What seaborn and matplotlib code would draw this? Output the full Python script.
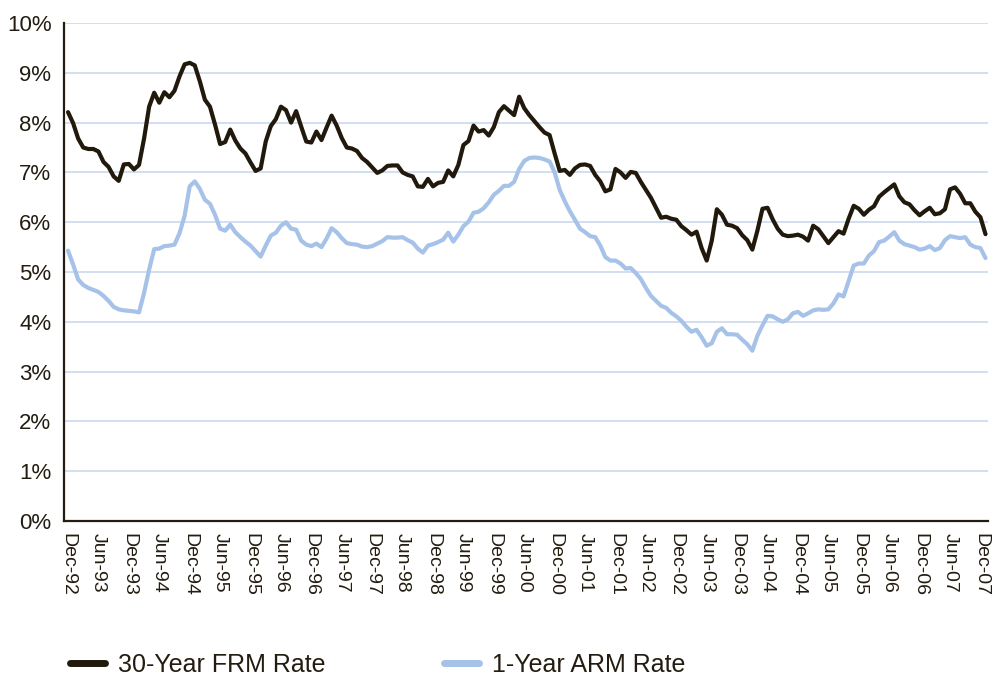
"""
plot.py
Monthly 30-year fixed vs 1-year adjustable mortgage rates, Dec-92 to Jan-08
"""
import numpy as np
import pandas as pd
import matplotlib
matplotlib.use('Agg')
import matplotlib.pyplot as plt
import seaborn as sns


# DATA =================================

frm_rate = [
    8.21,
    7.99, 7.68, 7.50, 7.47, 7.47, 7.42, 7.21, 7.11, 6.92, 6.83, 7.16, 7.17,
    7.06, 7.15, 7.68, 8.32, 8.60, 8.40, 8.61, 8.51, 8.64, 8.93, 9.17, 9.20,
    9.15, 8.83, 8.46, 8.32, 7.96, 7.57, 7.61, 7.86, 7.64, 7.48, 7.38, 7.20,
    7.03, 7.08, 7.62, 7.93, 8.07, 8.32, 8.25, 8.00, 8.23, 7.92, 7.62, 7.60,
    7.82, 7.65, 7.90, 8.14, 7.94, 7.69, 7.50, 7.48, 7.43, 7.29, 7.21, 7.10,
    6.99, 7.04, 7.13, 7.14, 7.14, 7.00, 6.95, 6.92, 6.72, 6.71, 6.87, 6.72,
    6.79, 6.81, 7.04, 6.92, 7.15, 7.55, 7.63, 7.94, 7.82, 7.85, 7.74, 7.91,
    8.21, 8.33, 8.24, 8.15, 8.52, 8.29, 8.15, 8.03, 7.91, 7.80, 7.75, 7.38,
    7.03, 7.05, 6.95, 7.08, 7.15, 7.16, 7.13, 6.95, 6.82, 6.62, 6.66, 7.07,
    7.00, 6.89, 7.01, 6.99, 6.81, 6.65, 6.49, 6.29, 6.09, 6.11, 6.07, 6.05,
    5.92, 5.84, 5.75, 5.81, 5.48, 5.23, 5.63, 6.26, 6.15, 5.95, 5.93, 5.88,
    5.74, 5.64, 5.45, 5.83, 6.27, 6.29, 6.06, 5.87, 5.75, 5.72, 5.73, 5.75,
    5.71, 5.63, 5.93, 5.86, 5.72, 5.58, 5.70, 5.82, 5.77, 6.07, 6.33, 6.27,
    6.15, 6.25, 6.32, 6.51, 6.60, 6.68, 6.76, 6.52, 6.40, 6.36, 6.24, 6.14,
    6.22, 6.29, 6.16, 6.18, 6.26, 6.66, 6.70, 6.57, 6.38, 6.38, 6.21, 6.10,
    5.76,
]

arm_rate = [
    5.43,
    5.15, 4.85, 4.74, 4.68, 4.64, 4.60, 4.52, 4.42, 4.30, 4.25, 4.23, 4.22,
    4.21, 4.19, 4.58, 5.05, 5.46, 5.47, 5.52, 5.53, 5.55, 5.78, 6.13, 6.72,
    6.82, 6.67, 6.45, 6.37, 6.15, 5.87, 5.83, 5.95, 5.80, 5.70, 5.61, 5.53,
    5.42, 5.31, 5.53, 5.73, 5.79, 5.93, 6.00, 5.87, 5.85, 5.63, 5.55, 5.52,
    5.57, 5.50, 5.67, 5.88, 5.80, 5.68, 5.58, 5.56, 5.55, 5.51, 5.50, 5.52,
    5.57, 5.62, 5.70, 5.69, 5.69, 5.70, 5.64, 5.59, 5.47, 5.39, 5.53, 5.56,
    5.60, 5.65, 5.79, 5.61, 5.75, 5.92, 6.01, 6.19, 6.21, 6.28, 6.40, 6.55,
    6.63, 6.73, 6.73, 6.81, 7.07, 7.23, 7.29, 7.30, 7.29, 7.26, 7.22, 7.00,
    6.65, 6.42, 6.22, 6.05, 5.87, 5.80, 5.72, 5.70, 5.53, 5.30, 5.23, 5.23,
    5.17, 5.07, 5.08, 4.98, 4.86, 4.68, 4.52, 4.42, 4.32, 4.28, 4.18, 4.11,
    4.02, 3.90, 3.80, 3.84, 3.69, 3.52, 3.57, 3.80, 3.87, 3.75, 3.75, 3.74,
    3.64, 3.55, 3.42, 3.72, 3.93, 4.12, 4.11, 4.05, 4.00, 4.05, 4.17, 4.20,
    4.12, 4.17, 4.23, 4.25, 4.24, 4.25, 4.37, 4.55, 4.51, 4.82, 5.13, 5.17,
    5.17, 5.33, 5.42, 5.60, 5.63, 5.71, 5.80, 5.63, 5.56, 5.53, 5.50, 5.45,
    5.47, 5.52, 5.44, 5.48, 5.64, 5.72, 5.70, 5.68, 5.70, 5.55, 5.50, 5.48,
    5.28,
]

tick_labels = [
    'Dec-92', 'Jun-93', 'Dec-93', 'Jun-94', 'Dec-94', 'Jun-95', 'Dec-95',
    'Jun-96', 'Dec-96', 'Jun-97', 'Dec-97', 'Jun-98', 'Dec-98', 'Jun-99',
    'Dec-99', 'Jun-00', 'Dec-00', 'Jun-01', 'Dec-01', 'Jun-02', 'Dec-02',
    'Jun-03', 'Dec-03', 'Jun-04', 'Dec-04', 'Jun-05', 'Dec-05', 'Jun-06',
    'Dec-06', 'Jun-07', 'Dec-07',
]

series_names = ['30-Year FRM Rate', '1-Year ARM Rate']
y_ticks = list(range(0, 11))


# PLOT =================================

INK = '#231c10'
GRID = '#cfdcf0'
colors = {'30-Year FRM Rate': '#21190c', '1-Year ARM Rate': '#a6c2e8'}

n = len(frm_rate)
months = np.arange(n)
df = pd.DataFrame({
    'Month': np.concatenate([months, months]),
    'Rate': frm_rate + arm_rate,
    'Series': [series_names[0]] * n + [series_names[1]] * n,
})

sns.set_style('white')
plt.rcParams['font.family'] = ['Liberation Sans', 'DejaVu Sans']

fig = plt.figure(figsize=(9.95, 6.79), dpi=100)
ax = fig.add_axes([0.0643, 0.2327, 0.9287, 0.7334])

# light blue horizontal grid, the 0% line is the axis itself
for yv in y_ticks[1:]:
    ax.axhline(yv, color=GRID, linewidth=1.3, zorder=0)

sns.lineplot(data=df, x='Month', y='Rate', hue='Series', hue_order=series_names,
             palette=colors, linewidth=3, ax=ax, legend=True, zorder=3)

ax.set_xlim(-0.8, 181.5)
ax.set_ylim(0, 10)
ax.set_xticks(months[::6][:len(tick_labels)])
ax.set_xticklabels(tick_labels, rotation=-90, fontsize=14, color=INK)
ax.set_yticks(y_ticks)
ax.set_yticklabels([f'{v}%' for v in y_ticks], fontsize=16, color=INK)
ax.set_xlabel('')
ax.set_ylabel('')

for side in ['top', 'right']:
    ax.spines[side].set_visible(False)
for side in ['left', 'bottom']:
    ax.spines[side].set_color(INK)
    ax.spines[side].set_linewidth(1.6)
ax.tick_params(axis='both', direction='out', length=5, width=1.4, color=INK)
ax.tick_params(axis='y', pad=4)
ax.tick_params(axis='x', pad=4)

sns.move_legend(ax, 'center left', bbox_to_anchor=(0.0704, 0.021),
                bbox_transform=fig.transFigure, ncol=2, frameon=False, title=None,
                fontsize=18, handlelength=1.4, handletextpad=0.5,
                columnspacing=4.76, borderpad=0, borderaxespad=0)
leg = ax.get_legend()
for line in leg.get_lines():
    line.set_linewidth(5)
for text in leg.get_texts():
    text.set_color(INK)

fig.savefig('out.png', dpi=100)
